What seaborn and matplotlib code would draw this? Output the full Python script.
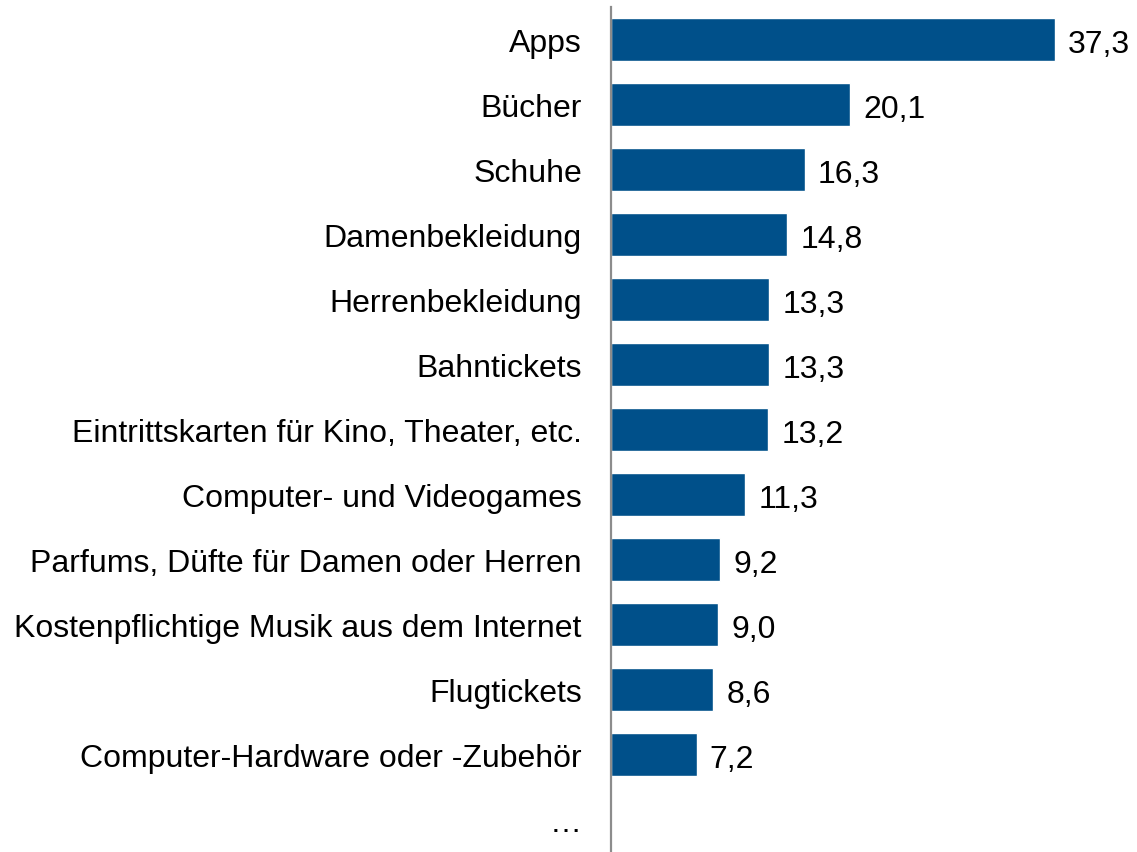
import matplotlib
matplotlib.use("Agg")
import matplotlib.pyplot as plt
import seaborn as sns
import pandas as pd
import numpy as np

# Daten
kategorien = [
    "Apps",
    "Bücher",
    "Schuhe",
    "Damenbekleidung",
    "Herrenbekleidung",
    "Bahntickets",
    "Eintrittskarten für Kino, Theater, etc.",
    "Computer- und Videogames",
    "Parfums, Düfte für Damen oder Herren",
    "Kostenpflichtige Musik aus dem Internet",
    "Flugtickets",
    "Computer-Hardware oder -Zubehör",
    "…",
]
werte = [37.3, 20.1, 16.3, 14.8, 13.3, 13.3, 13.2, 11.3, 9.2, 9.0, 8.6, 7.2, np.nan]

df = pd.DataFrame({"kategorie": kategorien, "wert": werte})

sns.set_style("white")
plt.rcParams["font.family"] = ["Liberation Sans", "DejaVu Sans"]

fig = plt.figure(figsize=(11.37, 8.53), dpi=100)
ax = fig.add_axes([611 / 1137, 0.0, 1 - 611 / 1137, 1 - 8 / 853])

sns.barplot(data=df, x="wert", y="kategorie", color="#00508A",
            saturation=1, width=0.67, orient="h", ax=ax)

ax.set_xlim(0, 44.2)
ax.set_ylim(len(kategorien) - 0.5, -0.5)
ax.set_xlabel("")
ax.set_ylabel("")
ax.set_xticks([])
ax.tick_params(axis="y", length=0, pad=21, labelsize=23, labelcolor="black")
for lbl in ax.get_yticklabels():
    lbl.set_va("center_baseline")

for s in ["top", "right", "bottom"]:
    ax.spines[s].set_visible(False)
ax.spines["left"].set_color("#8c8c8c")
ax.spines["left"].set_linewidth(1.6)

# Wertbeschriftungen
for i, w in enumerate(werte):
    if not np.isnan(w):
        ax.text(w + 1.1, i + 0.02, f"{w:.1f}".replace(".", ","), va="center_baseline",
                ha="left", fontsize=23, color="black")

fig.savefig("out.png", dpi=100)
